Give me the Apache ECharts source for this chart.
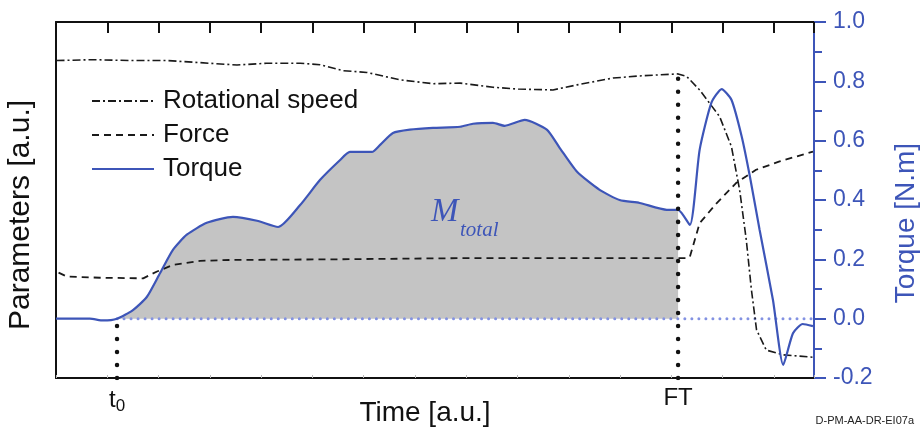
<!DOCTYPE html>
<html>
<head>
<meta charset="utf-8">
<script src="https://cdn.jsdelivr.net/npm/echarts@6/dist/echarts.min.js"></script>
<style>
  html, body { margin: 0; padding: 0; background: #fff; }
  #chart { width: 920px; height: 428px; }
</style>
</head>
<body>
<div id="chart"></div>
<script>
// time in a.u. (one top tick per unit), values on the torque scale
const X_MAX = 14.78;
const T0 = 1.19;
const FT = 12.13;

const torqueX = [0, 0.66, 0.92, 1.19, 1.50, 1.77, 2.03, 2.28, 2.55, 2.94, 3.45, 3.92, 4.33, 4.76, 5.15, 5.54, 5.73, 6.16, 6.32, 6.57, 6.90, 7.35, 7.88, 8.13, 8.52, 8.75, 9.14, 9.57, 9.82, 10.16, 10.60, 10.99, 11.38, 11.91, 12.13, 12.36, 12.55, 12.78, 12.98, 13.17, 13.37, 13.53, 13.72, 13.98, 14.18, 14.37, 14.56, 14.76];
const torqueY = [0.0, 0.0, -0.006, 0.0, 0.029, 0.073, 0.154, 0.232, 0.283, 0.323, 0.343, 0.330, 0.309, 0.383, 0.468, 0.535, 0.562, 0.562, 0.586, 0.626, 0.637, 0.643, 0.647, 0.657, 0.660, 0.650, 0.670, 0.637, 0.576, 0.495, 0.434, 0.400, 0.390, 0.367, 0.367, 0.316, 0.569, 0.728, 0.774, 0.738, 0.614, 0.479, 0.299, 0.063, -0.156, -0.049, -0.018, -0.025];

const speedX = [0.01, 0.72, 1.50, 2.16, 2.81, 3.53, 4.11, 4.76, 5.15, 5.59, 6.06, 6.71, 7.35, 7.88, 8.52, 9.01, 9.69, 10.16, 10.86, 11.44, 12.13, 12.30, 12.55, 12.94, 13.17, 13.33, 13.46, 13.56, 13.66, 13.85, 14.18, 14.76];
const speedY = [0.870, 0.873, 0.870, 0.870, 0.863, 0.855, 0.861, 0.861, 0.856, 0.836, 0.830, 0.805, 0.792, 0.794, 0.780, 0.774, 0.771, 0.788, 0.811, 0.819, 0.825, 0.816, 0.771, 0.681, 0.580, 0.434, 0.265, 0.097, -0.038, -0.106, -0.122, -0.130];

const forceX = [0.05, 0.21, 0.86, 1.70, 1.97, 2.28, 2.81, 3.45, 5.40, 7.88, 12.30, 12.36, 12.55, 12.88, 13.26, 13.65, 14.11, 14.76];
const forceY = [0.155, 0.142, 0.138, 0.136, 0.159, 0.181, 0.195, 0.198, 0.200, 0.204, 0.204, 0.209, 0.322, 0.389, 0.457, 0.502, 0.530, 0.563];

const rightTicks = { min: -0.2, max: 1.0, step: 0.2 };

const BLUE = '#3d55b8';
const zip = (xs, ys) => xs.map((x, i) => [x, ys[i]]);
const torque = zip(torqueX, torqueY);
const fillPart = torque.filter(p => p[0] >= T0 - 1e-6 && p[0] <= FT + 1e-6);
const ftTop = speedY[speedX.indexOf(FT)];

const chart = echarts.init(document.getElementById('chart'));
const FONT = 'Liberation Sans';

const option = {
  animation: false,
  textStyle: { fontFamily: FONT },
  grid: { left: 56, right: 106, top: 22, bottom: 50, containLabel: false, outerBoundsMode: 'none' },
  legend: {
    data: ['Rotational speed', 'Force', 'Torque'],
    orient: 'vertical',
    left: 86, top: 81,
    itemWidth: 62, itemHeight: 14, itemGap: 4,
    itemStyle: { opacity: 0 },
    textStyle: { fontSize: 26, color: '#111', lineHeight: 30, padding: [0, 0, 0, 4] }
  },
  xAxis: [
    {
      type: 'value', position: 'bottom', min: 0, max: X_MAX, interval: 1,
      name: 'Time [a.u.]', nameLocation: 'middle', nameGap: 21, nameMoveOverlap: false,
      nameTextStyle: { fontSize: 28, color: '#111', padding: [0, 20, 0, 0] },
      axisLine: { onZero: false, lineStyle: { color: '#111', width: 2 } },
      axisTick: { inside: true, length: 3, lineStyle: { color: '#bbb' } },
      splitLine: { show: false },
      axisLabel: {
        customValues: [T0, FT], margin: 8, color: '#111',
        formatter: v => Math.abs(v - T0) < 0.01 ? '{t|t}{s|0}' : '{f|FT}',
        rich: {
          t: { fontSize: 24, color: '#111' },
          s: { fontSize: 17, color: '#111', padding: [12, 0, 0, 0] },
          f: { fontSize: 24, color: '#111' }
        }
      }
    },
    {
      type: 'value', position: 'top', min: 0, max: X_MAX, interval: 1,
      axisLine: { onZero: false, lineStyle: { color: '#111', width: 2 } },
      axisTick: { inside: true, length: 11, lineStyle: { color: '#111', width: 2 } },
      axisLabel: { show: false },
      splitLine: { show: false }
    }
  ],
  yAxis: [
    {
      type: 'value', position: 'right', min: rightTicks.min, max: rightTicks.max, interval: rightTicks.step,
      name: 'Torque [N.m]', nameLocation: 'middle', nameGap: 78, nameRotate: 90, nameMoveOverlap: false,
      nameTextStyle: { fontSize: 28, color: BLUE, padding: [0, 46, 0, 0] },
      axisLine: { show: true, onZero: false, lineStyle: { color: BLUE, width: 2 } },
      axisTick: { inside: false, length: 12, lineStyle: { color: BLUE, width: 2 } },
      minorTick: { show: true, splitNumber: 2, length: 8, lineStyle: { color: BLUE, width: 2 } },
      axisLabel: {
        margin: 19, fontSize: 23, color: BLUE,
        formatter: v => Math.abs(v) < 1e-9 ? '0.0' : v.toFixed(1)
      },
      splitLine: { show: false }
    },
    {
      type: 'value', position: 'left', min: rightTicks.min, max: rightTicks.max,
      name: 'Parameters [a.u.]', nameLocation: 'middle', nameGap: 20, nameRotate: 90, nameMoveOverlap: false,
      nameTextStyle: { fontSize: 30, color: '#111', padding: [0, 30, 0, 0] },
      axisLine: { show: true, onZero: false, lineStyle: { color: '#111', width: 2 } },
      axisTick: { show: false },
      axisLabel: { show: false },
      splitLine: { show: false }
    }
  ],
  series: [
    {
      name: 'M_total', type: 'line', data: fillPart, symbol: 'none', z: 1, smooth: 0.2,
      lineStyle: { width: 0 },
      areaStyle: { color: '#c4c4c4', opacity: 1 }
    },
    {
      name: 'zero', type: 'line', data: [[T0, 0], [X_MAX, 0]], symbol: 'none', z: 2,
      lineStyle: { color: '#8392e2', width: 3, type: [0.01, 7], cap: 'round' }
    },
    {
      name: 'Force', type: 'line', data: zip(forceX, forceY), symbol: 'none', z: 3,
      itemStyle: { color: '#1a1a1a' },
      lineStyle: { color: '#1a1a1a', width: 1.8, type: [7, 5] }
    },
    {
      name: 'Rotational speed', type: 'line', data: zip(speedX, speedY), symbol: 'none', z: 3,
      itemStyle: { color: '#1a1a1a' },
      lineStyle: { color: '#1a1a1a', width: 1.6, type: [8, 3, 2, 3] }
    },
    {
      name: 'Torque', type: 'line', data: torque, symbol: 'none', z: 4, smooth: 0.2,
      itemStyle: { color: BLUE },
      lineStyle: { color: BLUE, width: 2.2 }
    },
    {
      name: 't0 mark', type: 'line', data: [[T0, rightTicks.min], [T0, 0]], symbol: 'none', z: 5,
      lineStyle: { color: '#111', width: 4.5, type: [0.01, 13], cap: 'round' }
    },
    {
      name: 'FT mark', type: 'line', data: [[FT, rightTicks.min], [FT, ftTop]], symbol: 'none', z: 5,
      lineStyle: { color: '#111', width: 4.5, type: [0.01, 13], cap: 'round' }
    }
  ],
  graphic: [
    {
      type: 'text', left: 431, top: 196, z: 10,
      style: { text: 'M', font: 'italic 33px "Liberation Serif"', fill: BLUE }
    },
    {
      type: 'text', left: 460, top: 220, z: 10,
      style: { text: 'total', font: 'italic 21px "Liberation Serif"', fill: BLUE }
    },
    {
      type: 'text', right: 6, bottom: 2, z: 10,
      style: { text: 'D-PM-AA-DR-EI07a', font: '11px "Liberation Sans"', fill: '#222' }
    }
  ]
};

chart.setOption(option);
</script>
</body>
</html>
